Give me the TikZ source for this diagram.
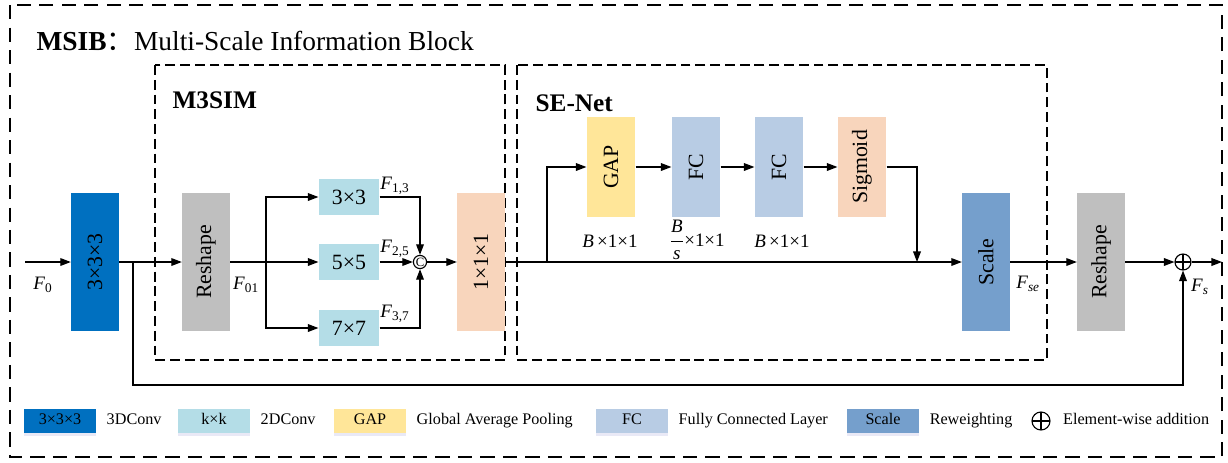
\documentclass[tikz,border=0pt]{standalone}
\usepackage{graphicx}
\usepackage{fontspec}
\setmainfont{Liberation Serif}
\newfontfamily\cjk{Noto Sans CJK SC}
\usetikzlibrary{arrows.meta,positioning,shadows}

\definecolor{convblue}{HTML}{0070C0}
\definecolor{kerncyan}{HTML}{B4DDE7}
\definecolor{gapyellow}{HTML}{FFE699}
\definecolor{fcblue}{HTML}{B8CCE4}
\definecolor{scaleblue}{HTML}{759FCC}
\definecolor{peach}{HTML}{F8D5BC}
\definecolor{reshapegray}{HTML}{BFBFBF}

\newcommand{\fs}[1]{\fontsize{#1}{#1}\selectfont}
\newcommand{\feat}[1]{\textit{F}\textsubscript{#1}}

\tikzset{
  >={Triangle[length=7.5pt,width=5.5pt]},
  tall/.style={fill=#1, minimum width=1.18cm, minimum height=3.47cm, inner sep=0pt, font=\fs{15.5}},
  slim/.style={fill=#1, minimum width=1.2cm, minimum height=2.48cm, inner sep=0pt, font=\fs{15.5}},
  kbox/.style={fill=kerncyan, minimum width=1.5cm, minimum height=0.88cm, inner sep=0pt, font=\fs{15.5}},
  groupbox/.style={line width=0.8pt, dash pattern=on 7pt off 3.5pt},
  lbl/.style={inner sep=0pt, font=\fs{13.5}},
  legbox/.style={fill=#1, minimum width=1.78cm, minimum height=0.6cm, inner sep=0pt, font=\fs{11.5},
    text height=1.5ex, text depth=.35ex,
    drop shadow={opacity=0.12, shadow xshift=0pt, shadow yshift=-2pt, fill=blue!40!gray}},
  legtxt/.style={inner sep=0pt, anchor=west, font=\fs{11.5}, text height=1.5ex, text depth=.35ex},
  addop/.style={circle, draw, inner sep=0pt, minimum size=0.4cm,
    path picture={\draw (path picture bounding box.north) -- (path picture bounding box.south)
                        (path picture bounding box.west) -- (path picture bounding box.east);}},
}

\begin{document}
\begin{tikzpicture}[x=0.025cm, y=-0.025cm, line width=0.8pt]
  \useasboundingbox (0,0) rectangle (1228,462);

  % Outer frame and the two sub-modules
  \draw[line width=1.4pt, dash pattern=on 10pt off 6pt] (10,5) rectangle (1222,457);
  \draw[groupbox] (155,65) rectangle (505,360);
  \draw[groupbox] (517,65) rectangle (1047,360);

  \node[anchor=base west, inner sep=0pt, font=\fs{19.5}] (title) at (36,50)
    {\textbf{MSIB}{\cjk ：}Multi-Scale Information Block};
  \node[anchor=base west, inner sep=0pt, font=\fs{18}\bfseries] (m3sim) at (172,108) {M3SIM};
  \node[anchor=base west, inner sep=0pt, font=\fs{18}\bfseries] (senet) at (535,111) {SE-Net};

  % Main blocks
  \node[tall=convblue] (conv) at (95,262) {\rotatebox{90}{3×3×3}};
  \node[tall=reshapegray] (rs1) at (206,262) {\rotatebox{90}{Reshape}};
  \node[kbox] (k3) at (349,197) {3×3};
  \node[kbox] (k5) at (349,262) {5×5};
  \node[kbox] (k7) at (349,328) {7×7};
  \node[circle, draw, inner sep=0pt, minimum size=0.33cm, font=\fs{9}] (cat) at (420,262) {C};
  \node[tall=peach] (pw) at (481,262) {\rotatebox{90}{1×1×1}};

  % Squeeze-excitation branch
  \node[slim=gapyellow] (gap) at (611,167) {\rotatebox{90}{GAP}};
  \node[slim=fcblue] (fc1) at (696,167) {\rotatebox{90}{FC}};
  \node[slim=fcblue] (fc2) at (779,167) {\rotatebox{90}{FC}};
  \node[slim=peach] (sig) at (862,167) {\rotatebox{90}{Sigmoid}};
  \node[tall=scaleblue] (scale) at (986,262) {\rotatebox{90}{Scale}};
  \node[tall=reshapegray] (rs2) at (1101,262) {\rotatebox{90}{Reshape}};
  \node[addop] (add) at (1183,262) {};

  % Junction points on the main line
  \coordinate (in) at (25,262);
  \coordinate (skip) at (133,262);
  \coordinate (low) at (133,385);
  \coordinate (fork) at (266,262);
  \coordinate (tap) at (547,262);
  \coordinate (mul) at (917,262);
  \coordinate (out) at (1222,262);

  % Connectors
  \draw[->] (in) -- (conv);
  \draw[->] (conv) -- (rs1);
  \draw[->] (skip) -- (low) -| (add);
  \draw[->] (rs1) -- (k5);
  \draw[->] (fork) |- (k3);
  \draw[->] (fork) |- (k7);
  \draw[->] (k3) -| (cat);
  \draw[->] (k5) -- (cat);
  \draw[->] (k7) -| (cat);
  \draw[->] (cat) -- (pw);
  \draw[->] (pw) -- (scale);
  \draw[->] (tap) |- (gap);
  \foreach \a/\b in {gap/fc1, fc1/fc2, fc2/sig}
    \draw[->] (\a) -- (\b);
  \draw[->] (sig) -| (mul);
  \draw[->] (scale) -- (rs2);
  \draw[->] (rs2) -- (add);
  \draw[->] (add) -- (out);

  % Feature names and shapes
  \node[lbl] (f0) at (43,285) {\feat{0}};
  \node[lbl] (f01) at (246,285) {\feat{01}};
  \node[lbl] (f13) at (395,186) {\feat{1,3}};
  \node[lbl] (f25) at (395,249) {\feat{2,5}};
  \node[lbl] (f37) at (395,314) {\feat{3,7}};
  \node[lbl] (dgap) at (610,241) {\textit{B}\,×1×1};
  \node[lbl] (dfc1) at (697,240) {$\displaystyle\frac{\mbox{\itshape B}}{\mbox{\itshape s}}$×1×1};
  \node[lbl] (dfc2) at (782,241) {\textit{B}\,×1×1};
  \node[lbl] (fse) at (1028,284) {\feat{\textit{se}}};
  \node[lbl] (fsum) at (1200,287) {\feat{\textit{s}}};

  % Legend
  \foreach \c/\t/\d/\x [count=\i] in {convblue/3×3×3/3DConv/60, kerncyan/k×k/2DConv/214,
      gapyellow/GAP/Global Average Pooling/370, fcblue/FC/Fully Connected Layer/632,
      scaleblue/Scale/Reweighting/883} {
    \node[legbox=\c] (key\i) at (\x,421) {\t};
    \node[legtxt, right=0.25cm of key\i] (desc\i) {\d};
  }
  \node[addop, minimum size=0.45cm] (keyadd) at (1041,421) {};
  \node[legtxt, right=0.3cm of keyadd] (descadd) {Element-wise addition};

\end{tikzpicture}
\end{document}
